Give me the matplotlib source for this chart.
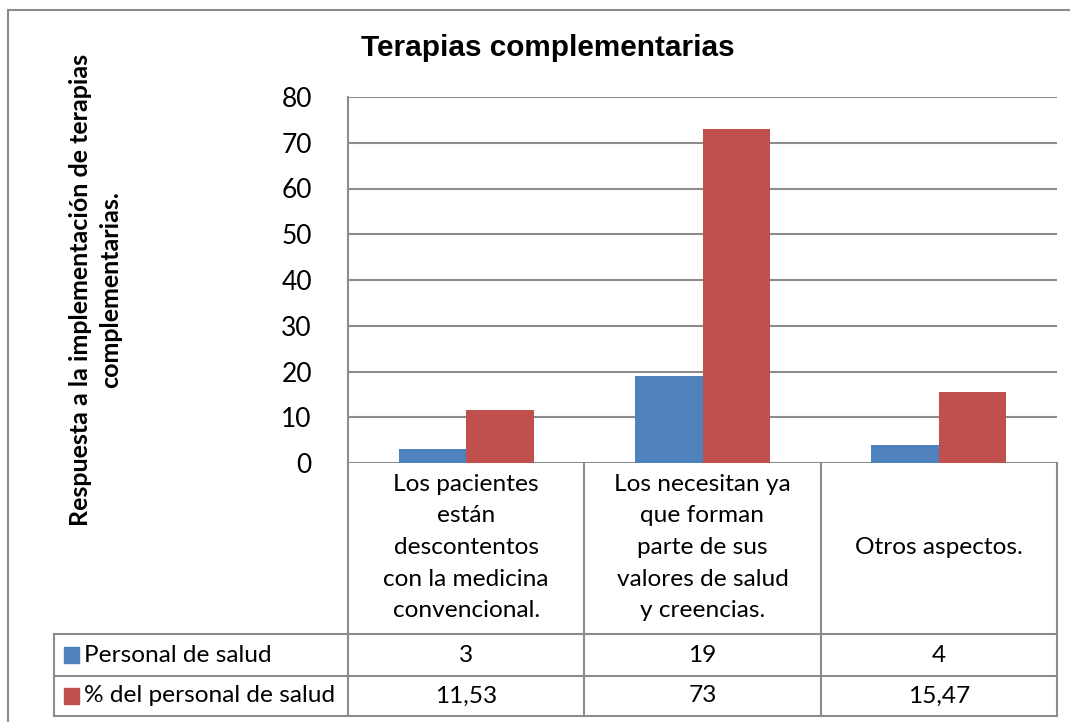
import numpy as np
import matplotlib
matplotlib.use("Agg")
import matplotlib.pyplot as plt
from matplotlib.lines import Line2D
from matplotlib.patches import Rectangle

# data
categories = [
    "Los pacientes\nestán\ndescontentos\ncon la medicina\nconvencional.",
    "Los necesitan ya\nque forman\nparte de sus\nvalores de salud\ny creencias.",
    "Otros aspectos.",
]
series_names = ["Personal de salud", "% del personal de salud"]
personal     = [3, 19, 4]
porcentaje   = [11.53, 73, 15.47]
y_ticks      = [0, 10, 20, 30, 40, 50, 60, 70, 80]

title  = "Terapias complementarias"
ylabel = "Respuesta a la implementación de terapias\ncomplementarias."

colors    = ["#4F81BD", "#C0504D"]
gray      = "#8C8C8C"
body_font = ["Lato", "DejaVu Sans"]
body_size = 17.6
W, H      = 1070, 722

def fx(px):
    return px / W

def fy(py):
    return 1 - py / H

def hline(py, x0, x1):
    fig.add_artist(Line2D([fx(x0), fx(x1)], [fy(py), fy(py)],
                          transform=fig.transFigure, color=gray, linewidth=1.5))

def vline(px, y0, y1):
    fig.add_artist(Line2D([fx(px), fx(px)], [fy(y0), fy(y1)],
                          transform=fig.transFigure, color=gray, linewidth=1.5))

fig = plt.figure(figsize=(W / 100, H / 100), dpi=100)

# outer chart border: only the top and left edges are inside the picture
hline(10, 8, W + 5)
vline(8, 10, H + 5)

ax = fig.add_axes([fx(348), fy(463), fx(1057) - fx(348), fy(97) - fy(463)])

bar_width = 1 / 3.5
x = np.arange(len(categories))
ax.bar(x - bar_width / 2, personal, bar_width, color=colors[0], zorder=3)
ax.bar(x + bar_width / 2, porcentaje, bar_width, color=colors[1], zorder=3)

ax.set_xlim(-0.5, len(categories) - 0.5)
ax.set_ylim(0, 80)
ax.set_yticks(y_ticks)
ax.set_xticks([])
ax.yaxis.grid(True, color=gray, linewidth=1.5)
ax.set_axisbelow(True)
for side in ["top", "right", "bottom"]:
    ax.spines[side].set_visible(False)
ax.spines["left"].set_color(gray)
ax.spines["left"].set_linewidth(1.5)
ax.tick_params(axis="y", length=0, pad=26, labelsize=19)
for lab in ax.get_yticklabels():
    lab.set_family(body_font)

fig.text(fx(548), fy(48), title, ha="center", va="center",
         fontsize=21.4, fontweight="bold", family=["Liberation Sans", "DejaVu Sans"])

fig.text(fx(95.5), fy(290), ylabel, ha="center", va="center", rotation=90,
         multialignment="center", fontsize=18, fontweight="bold",
         family=body_font, linespacing=1.4)

# data table under the plot
fig.canvas.draw()
to_px = lambda xd: ax.transData.transform((xd, 0))[0]
col_edges = [to_px(e) for e in np.arange(len(categories) + 1) - 0.5]
table_left = 54
row_edges = [463, 634, 676, 716]

for py in row_edges[1:]:
    hline(py, table_left, col_edges[-1])
vline(table_left, row_edges[1], row_edges[-1])
for px in col_edges:
    vline(px, row_edges[0], row_edges[-1])

header_mid = (row_edges[0] + row_edges[1]) / 2
for i, cat in enumerate(categories):
    cx = (col_edges[i] + col_edges[i + 1]) / 2
    fig.text(fx(cx), fy(header_mid - 1), cat, ha="center", va="center",
             multialignment="center", fontsize=body_size, family=body_font,
             linespacing=1.63)

for r, (name, values) in enumerate(zip(series_names, [personal, porcentaje])):
    cy = (row_edges[r + 1] + row_edges[r + 2]) / 2
    fig.add_artist(Rectangle((fx(64), fy(cy + 8)), fx(15), fy(cy - 8) - fy(cy + 8),
                             transform=fig.transFigure, color=colors[r]))
    fig.text(fx(84), fy(cy), name, ha="left", va="center",
             fontsize=body_size, family=body_font)
    for i, v in enumerate(values):
        cx = (col_edges[i] + col_edges[i + 1]) / 2
        fig.text(fx(cx), fy(cy), f"{v:g}".replace(".", ","), ha="center",
                 va="center", fontsize=body_size, family=body_font)

fig.savefig("out.png", dpi=100)
